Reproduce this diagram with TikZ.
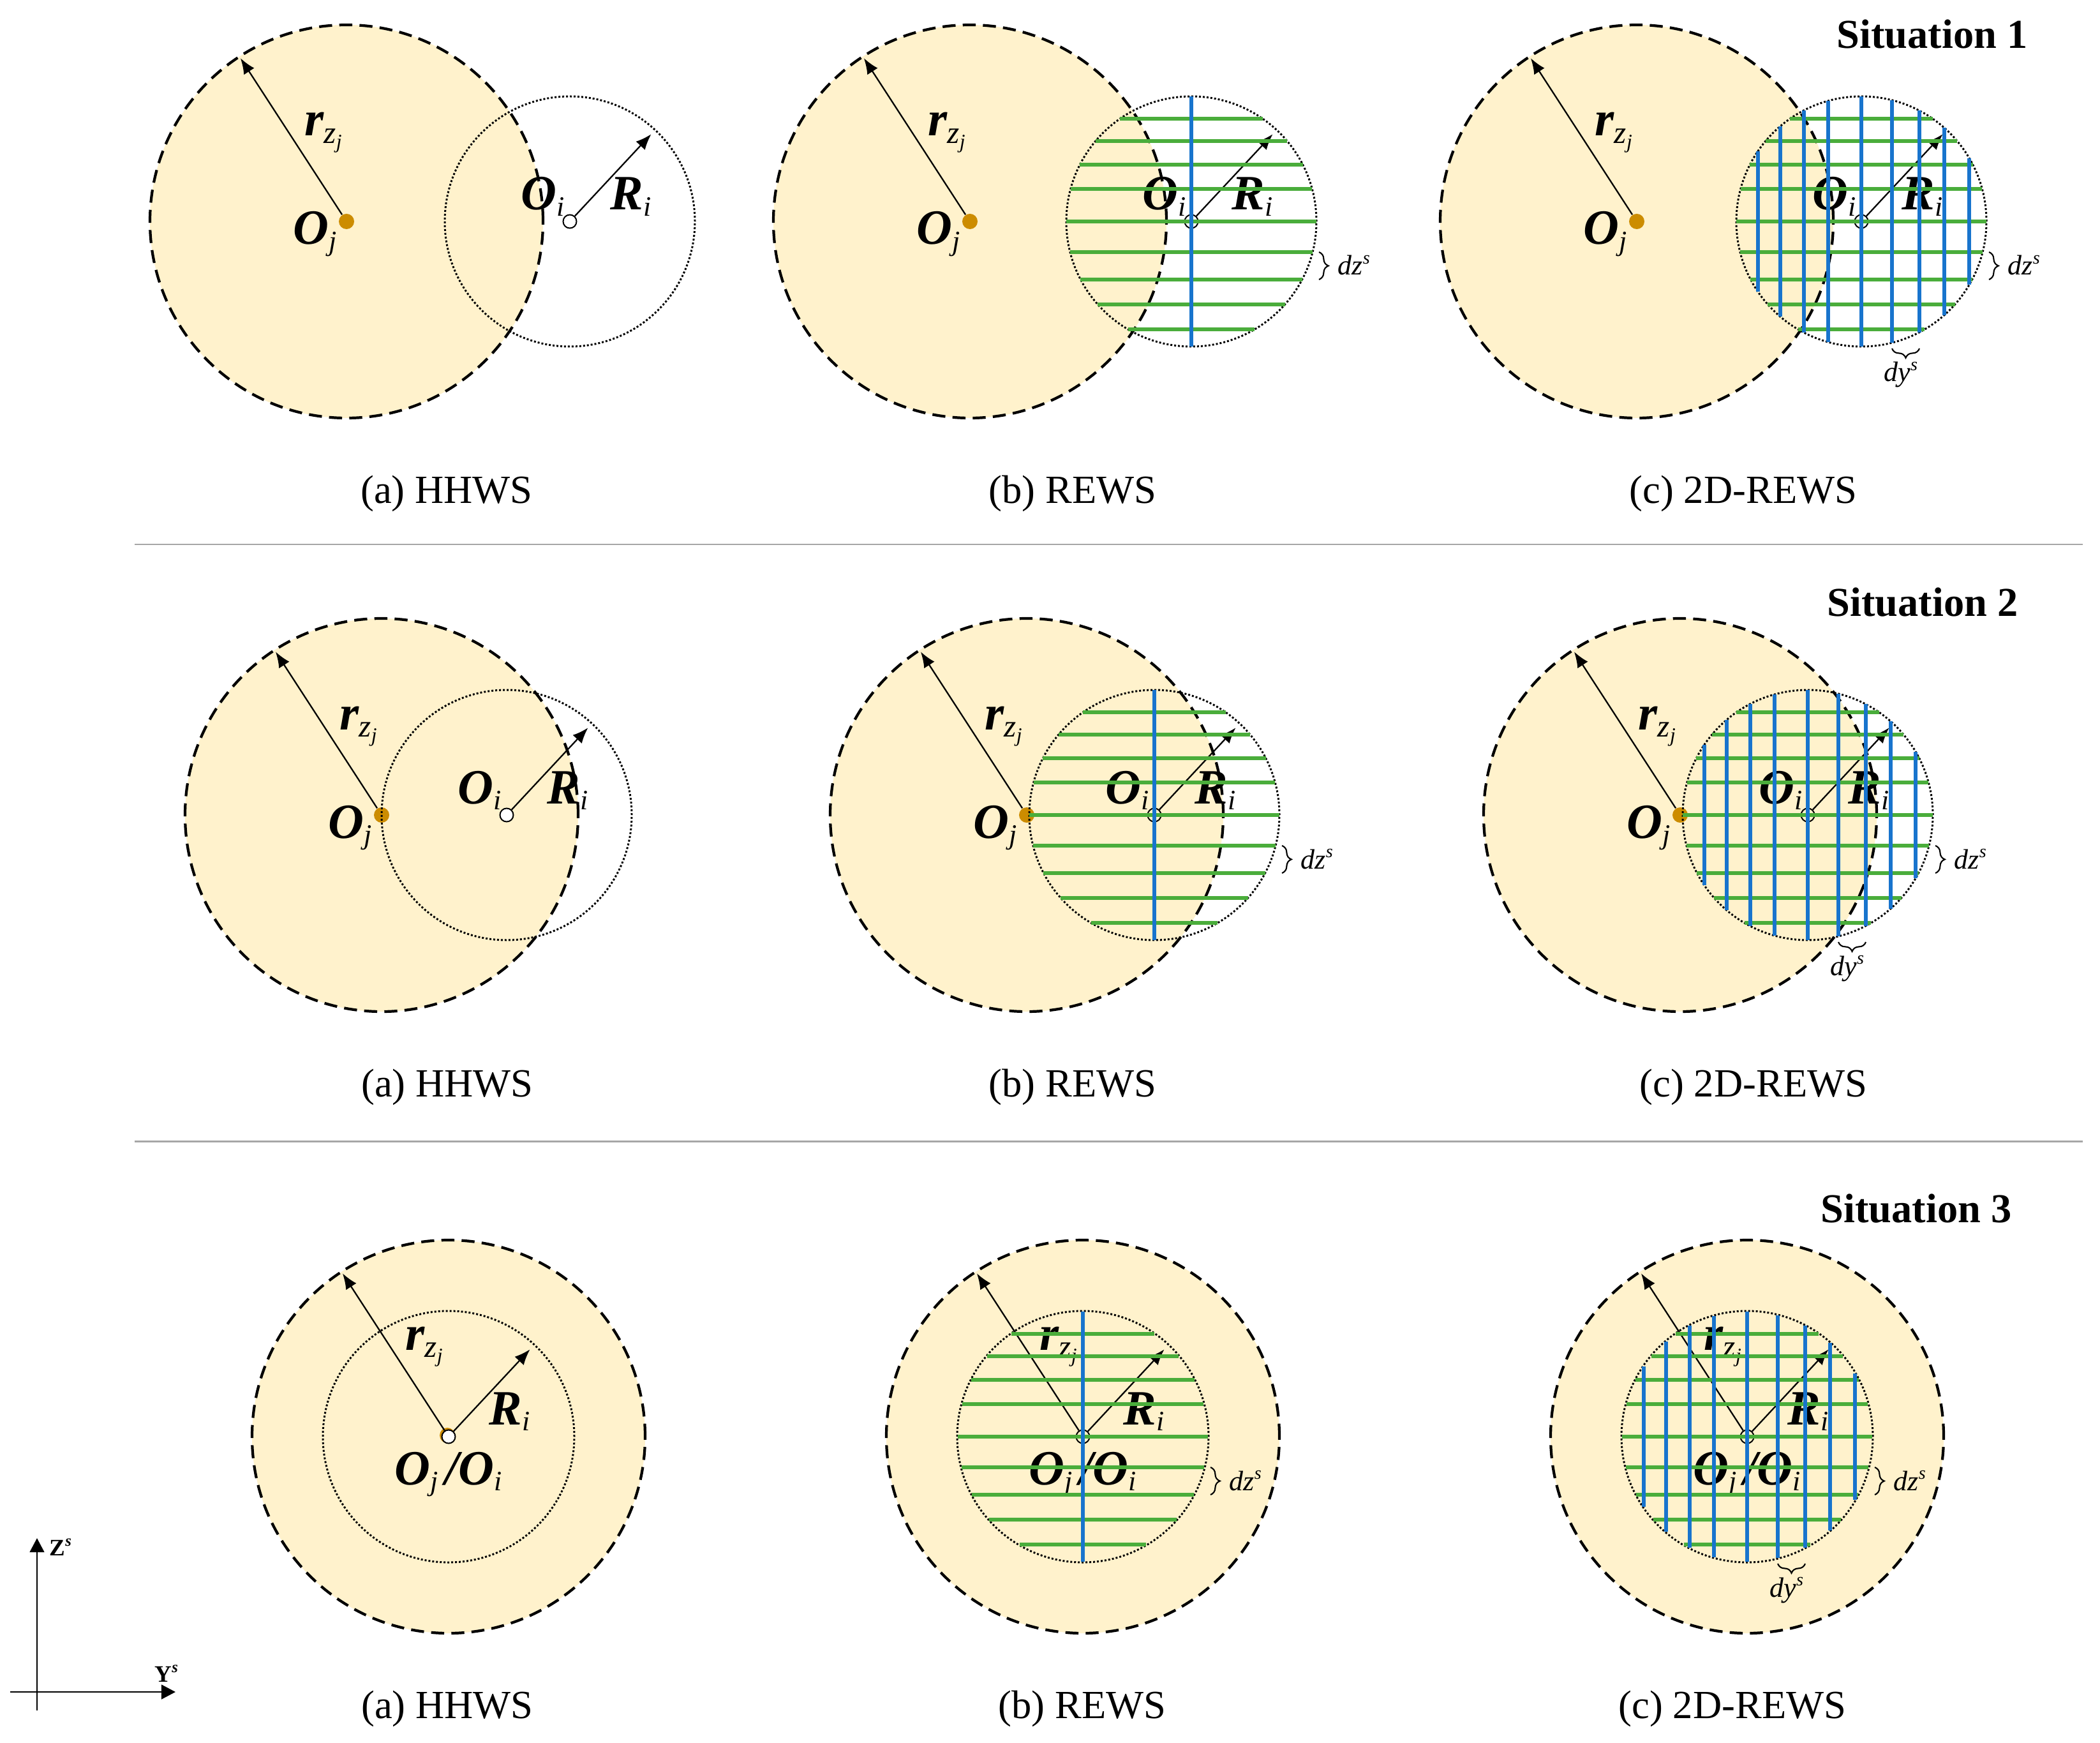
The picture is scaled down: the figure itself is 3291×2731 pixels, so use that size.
\documentclass[tikz,border=0pt]{standalone}
\usepackage{fontspec}
\setmainfont{Liberation Serif}
\usetikzlibrary{arrows.meta,decorations.pathreplacing,calc}

\definecolor{fillY}{RGB}{255,242,204}
\definecolor{dotO}{RGB}{204,140,0}
\definecolor{lineG}{RGB}{74,173,59}
\definecolor{lineB}{RGB}{24,116,205}
\definecolor{sepG}{RGB}{166,166,166}

\newcommand\mainf{\fontsize{22}{22}\selectfont\bfseries\itshape}
\newcommand\subf{\fontsize{12.5}{12.5}\selectfont\itshape}
\newcommand\subz{\fontsize{14}{14}\selectfont\itshape}
\newcommand\subsub{\fontsize{9}{9}\selectfont\itshape}
\newcommand\smallf{\fontsize{12.5}{12.5}\selectfont\itshape}
\newcommand\supf{\fontsize{8}{8}\selectfont\itshape}

\newcommand\lblOj{{\mainf O}\raisebox{-2.8pt}{\subf j}}
\newcommand\lblOi{{\mainf O}\raisebox{-2.6pt}{\subf i}}
\newcommand\lblRi{{\mainf R}\raisebox{-2.6pt}{\subf i}}
\newcommand\lblrz{{\mainf r}\raisebox{-3.4pt}{\subz z\raisebox{-2.2pt}{\subsub j}}}
\newcommand\lblOO{{\mainf O}\raisebox{-2.8pt}{\subf j}\kern3pt{\mainf /O}\raisebox{-2.8pt}{\subf i}}

\tikzset{
  jdot/.style={circle,fill=dotO,inner sep=0pt,minimum size=0.24cm},
  idot/.style={circle,draw=black,line width=0.57pt,inner sep=0pt,minimum size=0.21cm},
  dotc/.style={line width=0.85pt,dash pattern=on 0.85pt off 0.85pt},
  dashc/.style={line width=1.2pt,dash pattern=on 5.8pt off 3.2pt},
  gline/.style={draw=lineG,line width=1.75pt},
  bline/.style={draw=lineB,line width=1.75pt},
  arrw/.style={line width=0.65pt,-{Latex[length=7pt,width=5.5pt]}},
  lblw/.style={inner sep=0pt,anchor=base west},
  brcw/.style={decorate,decoration={brace,amplitude=4.2pt},line width=0.6pt},
  capt/.style={anchor=base,inner sep=0pt,font=\fontsize{17.8}{20}\selectfont},
  sitlbl/.style={anchor=base east,inner sep=0pt,font=\fontsize{18.3}{20}\selectfont\bfseries},
  seplin/.style={draw=sepG,line width=0.85pt},
  axisarr/.style={line width=0.6pt,-{Triangle[length=6.3pt,width=6.5pt]}},
}

% #1 id, #2 Ojx, #3 Ojy, #4 Oix, #5 Oiy, #6 style of O_i marker
\newcommand\drawcircles[6]{%
  \fill[fillY] (#2,-#3) circle[radius=308];
  \node[jdot] (Oj#1) at (#2,-#3) {};
  \draw[dotc] (#4,-#5) circle[radius=196];
  \draw[dashc] (#2,-#3) circle[radius=308];
  \node[#6] (Oi#1) at (#4,-#5) {};
}
% labels for situations 1 and 2
\newcommand\labelsA[5]{%
  \node[lblw] (rl#1) at (#2-66,-#3+134) {\lblrz};
  \node[lblw] (ojl#1) at (#2-84,-#3-36) {\lblOj};
  \node[lblw] (oil#1) at (#4-77,-#5+18) {\lblOi};
  \node[lblw] (ril#1) at (#4+63,-#5+18) {\lblRi};
}
% arrows: #1 id, #2 node for r, #3 node for R
\newcommand\drawarrows[3]{%
  \path (#2) ++(123:305) coordinate (rt#1);
  \path (#3) ++(47:187) coordinate (Rt#1);
  \draw[arrw] (#2) -- (rt#1);
  \draw[arrw] (#3) -- (Rt#1);
}
\newcommand\greengrid[2]{%
  \foreach \dd in {-161,-126,-89,-51,0,48,91,130,169}{%
    \pgfmathsetmacro\hw{100*sqrt(1.96*1.96-(\dd/100)*(\dd/100))}%
    \draw[gline] ({#1-\hw},{-#2-(\dd)}) -- ({#1+\hw},{-#2-(\dd)});
  }%
}
\newcommand\bluegrid[2]{%
  \foreach \dd in {-162,-127,-90,-52,0,48,91,130,169}{%
    \pgfmathsetmacro\hw{100*sqrt(1.96*1.96-(\dd/100)*(\dd/100))}%
    \draw[bline] ({#1+(\dd)},{-#2+\hw}) -- ({#1+(\dd)},{-#2-\hw});
  }%
}
\newcommand\bluecenter[2]{\draw[bline] (#1,-#2+196) -- (#1,-#2-196);}
\newcommand\dzb[2]{%
  \draw[brcw] (#1+200,-#2-48) -- (#1+200,-#2-91);
  \node[lblw] at (#1+229,-#2-84) {\smallf dz\raisebox{5pt}{\supf s}};
}
\newcommand\dyb[2]{%
  \draw[brcw] (#1+91,-#2-199) -- (#1+48,-#2-199);
  \node[lblw] at (#1+35,-#2-251) {\smallf dy\raisebox{5pt}{\supf s}};
}
% situation 3 concentric: #1 id, #2 x, #3 y, #4 show orange dot (1/0)
\newcommand\sthree[4]{%
  \fill[fillY] (#2,-#3) circle[radius=308];
  \ifnum#4=1 \node[jdot] (Oj#1) at (#2-2,-#3+2) {};\fi
  \draw[dotc] (#2,-#3) circle[radius=197];
  \draw[dashc] (#2,-#3) circle[radius=308];
  \ifnum#4=1 \node[idot,fill=white] (Oi#1) at (#2,-#3) {};
  \else \node[idot] (Oi#1) at (#2,-#3) {};\fi
  \node[lblw] (rl#1) at (#2-68,-#3+136) {\lblrz};
  \node[lblw] (ril#1) at (#2+63,-#3+19) {\lblRi};
  \node[lblw] (ool#1) at (#2-85,-#3-75) {\lblOO};
  \drawarrows{#1}{Oi#1}{Oi#1}
}

\begin{document}
\begin{tikzpicture}[x=0.01cm,y=0.01cm]
\fill[white] (0,0) rectangle (3291,-2731);
\useasboundingbox (0,0) rectangle (3291,-2731);

% separators
\draw[seplin] (211,-853) -- (3264,-853);
\draw[seplin] (211,-1788) -- (3264,-1788);

% situation titles
\node[sitlbl] (s1) at (3178,-76) {Situation 1};
\node[sitlbl] (s2) at (3163,-965) {Situation 2};
\node[sitlbl] (s3) at (3153,-1915) {Situation 3};

% ---------- Situation 1 ----------
\drawcircles{A1}{543}{347}{893}{347}{idot,fill=white}
\labelsA{A1}{543}{347}{893}{347}
\drawarrows{A1}{OjA1}{OiA1}

\drawcircles{B1}{1520}{347}{1867}{347}{idot}
\labelsA{B1}{1520}{347}{1867}{347}
\drawarrows{B1}{OjB1}{OiB1}
\greengrid{1867}{347}
\bluecenter{1867}{347}
\dzb{1867}{347}

\drawcircles{C1}{2565}{347}{2917}{347}{idot}
\labelsA{C1}{2565}{347}{2917}{347}
\drawarrows{C1}{OjC1}{OiC1}
\greengrid{2917}{347}
\bluegrid{2917}{347}
\dzb{2917}{347}
\dyb{2917}{347}

% ---------- Situation 2 ----------
\drawcircles{A2}{598}{1277}{794}{1277}{idot,fill=white}
\labelsA{A2}{598}{1277}{794}{1277}
\drawarrows{A2}{OjA2}{OiA2}

\drawcircles{B2}{1609}{1277}{1809}{1277}{idot}
\labelsA{B2}{1609}{1277}{1809}{1277}
\drawarrows{B2}{OjB2}{OiB2}
\greengrid{1809}{1277}
\bluecenter{1809}{1277}
\dzb{1809}{1277}

\drawcircles{C2}{2633}{1277}{2833}{1277}{idot}
\labelsA{C2}{2633}{1277}{2833}{1277}
\drawarrows{C2}{OjC2}{OiC2}
\greengrid{2833}{1277}
\bluegrid{2833}{1277}
\dzb{2833}{1277}
\dyb{2833}{1277}

% ---------- Situation 3 ----------
\sthree{A3}{703}{2251}{1}

\sthree{B3}{1697}{2251}{0}
\greengrid{1697}{2251}
\bluecenter{1697}{2251}
\dzb{1697}{2251}

\sthree{C3}{2738}{2251}{0}
\greengrid{2738}{2251}
\bluegrid{2738}{2251}
\dzb{2738}{2251}
\dyb{2738}{2251}

% captions
\node[capt] (ca1) at (700,-788) {(a) HHWS};
\node[capt] (cb1) at (1681,-788) {(b) REWS};
\node[capt] (cc1) at (2732,-788) {(c) 2D-REWS};
\node[capt] (ca2) at (701,-1718) {(a) HHWS};
\node[capt] (cb2) at (1681,-1718) {(b) REWS};
\node[capt] (cc2) at (2748,-1718) {(c) 2D-REWS};
\node[capt] (ca3) at (701,-2692) {(a) HHWS};
\node[capt] (cb3) at (1696,-2692) {(b) REWS};
\node[capt] (cc3) at (2715,-2692) {(c) 2D-REWS};

% axes
\coordinate (zb) at (58,-2680);
\coordinate (zt) at (58,-2410);
\coordinate (yl) at (16,-2651);
\coordinate (yt) at (275,-2651);
\draw[axisarr] (zb) -- (zt);
\draw[axisarr] (yl) -- (yt);
\node[lblw] (zlab) at (77,-2437) {{\fontsize{10.5}{12}\selectfont\bfseries Z}\raisebox{4pt}{\fontsize{7}{8}\selectfont\bfseries\itshape s}};
\node[lblw] (ylab) at (242,-2635) {{\fontsize{10.5}{12}\selectfont\bfseries Y}\raisebox{4pt}{\fontsize{7}{8}\selectfont\bfseries\itshape s}};
\end{tikzpicture}
\end{document}
